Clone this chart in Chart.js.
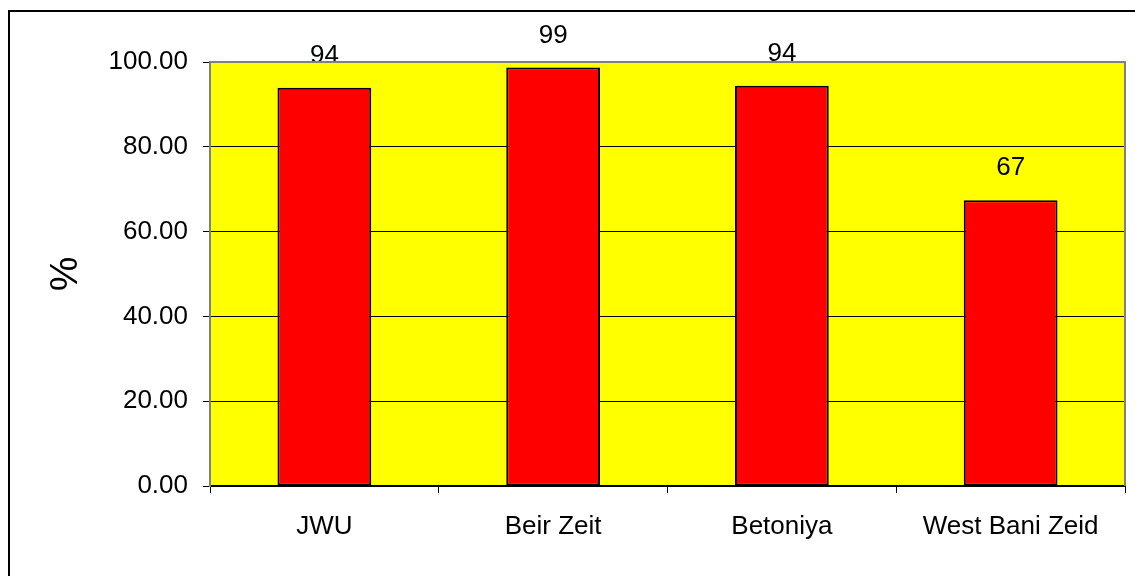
<!DOCTYPE html>
<html>
<head>
<meta charset="utf-8">
<script src="https://cdn.jsdelivr.net/npm/chart.js@4"></script>
<style>
    html, body { margin: 0; padding: 0; background: #fff; }
    #wrap { width: 1135px; height: 576px; position: relative; }
</style>
</head>
<body>
<div id="wrap"><canvas id="barChart"></canvas></div>
<script>
const categories = ['JWU', 'Beir Zeit', 'Betoniya', 'West Bani Zeid'];
const percentValues = [93.9, 98.7, 94.4, 67.4];
const yTicks = [0, 20, 40, 60, 80, 100];

const fontFamily = '"Liberation Sans", Arial, sans-serif';

// yellow plot area, grey top/right edge and the outer frame
const framePlugin = {
    id: 'frame',
    beforeDraw(chart) {
        const ctx = chart.ctx;
        const a = chart.chartArea;
        ctx.save();
        ctx.fillStyle = '#FFFF00';
        ctx.fillRect(a.left, a.top, a.right - a.left, a.bottom - a.top);
        ctx.restore();
    },
    afterDraw(chart) {
        const ctx = chart.ctx;
        const a = chart.chartArea;
        ctx.save();
        ctx.strokeStyle = '#808080';
        ctx.lineWidth = 2;
        ctx.beginPath();
        ctx.moveTo(a.left, a.top);
        ctx.lineTo(a.right, a.top);
        ctx.lineTo(a.right, a.bottom);
        ctx.stroke();

        ctx.strokeStyle = '#000';
        ctx.lineWidth = 2;
        ctx.beginPath();
        ctx.moveTo(9, chart.height + 2);
        ctx.lineTo(9, 11);
        ctx.lineTo(chart.width + 2, 11);
        ctx.stroke();
        ctx.restore();
    }
};

// value labels above each bar
const valueLabels = {
    id: 'valueLabels',
    afterDatasetsDraw(chart) {
        const ctx = chart.ctx;
        const meta = chart.getDatasetMeta(0);
        ctx.save();
        ctx.font = '26px ' + fontFamily;
        ctx.fillStyle = '#000';
        ctx.textAlign = 'center';
        ctx.textBaseline = 'alphabetic';
        meta.data.forEach((bar, i) => {
            ctx.fillText(Math.round(percentValues[i]), bar.x, bar.y - 25);
        });
        ctx.restore();
    }
};

const ctx = document.getElementById('barChart').getContext('2d');
const chart = new Chart(ctx, {
    type: 'bar',
    data: {
        labels: categories,
        datasets: [{
            data: percentValues,
            backgroundColor: '#FF0000',
            borderColor: '#000000',
            borderWidth: 2,
            borderSkipped: false,
            categoryPercentage: 1.0,
            barPercentage: 0.41
        }]
    },
    options: {
        responsive: true,
        maintainAspectRatio: false,
        animation: false,
        layout: { padding: { left: 0, right: 10, top: 62, bottom: 0 } },
        plugins: {
            legend: { display: false },
            tooltip: { enabled: false }
        },
        scales: {
            x: {
                offset: true,
                grid: {
                    offset: true,
                    drawOnChartArea: false,
                    drawTicks: true,
                    tickLength: 7,
                    color: '#000',
                    lineWidth: 1
                },
                border: { color: '#000', width: 2 },
                ticks: {
                    color: '#000',
                    padding: 18,
                    font: { family: fontFamily, size: 26 }
                },
                afterFit(scale) { scale.height = 90; }
            },
            y: {
                min: 0,
                max: 100,
                afterBuildTicks(scale) {
                    scale.ticks = yTicks.map(v => ({ value: v }));
                },
                grid: {
                    color: '#000',
                    lineWidth: 1,
                    tickLength: 7
                },
                border: { color: '#808080', width: 2 },
                ticks: {
                    color: '#000',
                    padding: 15,
                    font: { family: fontFamily, size: 26 },
                    callback: v => Number(v).toFixed(2)
                },
                title: {
                    display: true,
                    text: '%',
                    color: '#000',
                    font: { family: fontFamily, size: 39, lineHeight: 1 },
                    padding: { top: 47, bottom: 0 }
                },
                afterFit(scale) { scale.width = 210; }
            }
        }
    },
    plugins: [framePlugin, valueLabels]
});
</script>
</body>
</html>
